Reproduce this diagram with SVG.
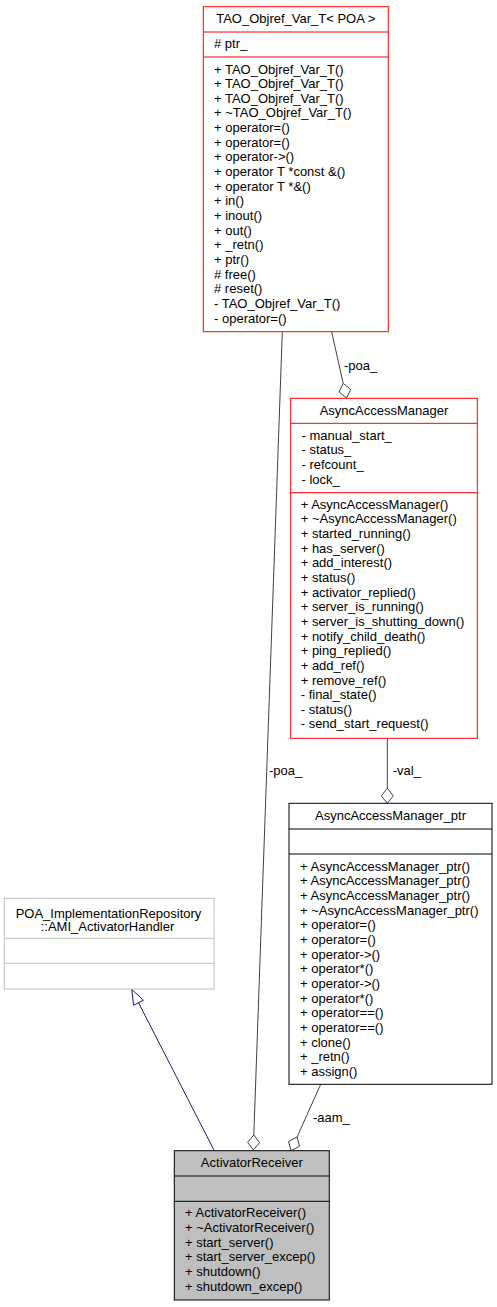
<svg xmlns="http://www.w3.org/2000/svg" width="497" height="1307" viewBox="0 0 497 1307">
<style>
text{font-family:"Liberation Sans",Arial,sans-serif;font-size:13px;fill:#000}
.c{text-anchor:middle}
.box{fill:#fff;stroke:#000;stroke-width:1}
.red{stroke:#ff0000}
.grey{stroke:#bfbfbf}
.cur{fill:#bfbfbf}
.edge{fill:none;stroke:#404040;stroke-width:1}
.dia{fill:#fff;stroke:#404040;stroke-width:1}
.inh{fill:none;stroke:#191970;stroke-width:1}
.inhh{fill:#fff;stroke:#191970;stroke-width:1}
</style>
<rect width="497" height="1307" fill="#fff"/>
<g id="connectors">
<polyline class="edge" points="282.3,332 253.8,1135"/>
<polygon class="dia" points="253.3,1150 259.6,1142.7 253.8,1135 247.6,1142.3"/>
<text x="269" y="775">-poa_</text>
<polyline class="edge" points="331.7,332 343.2,383.4"/>
<polygon class="dia" points="346.5,398 350.7,389.4 343.2,383.4 339,392"/>
<text x="344" y="369.5">-poa_</text>
<polyline class="edge" points="387.3,738.3 387.3,788.3"/>
<polygon class="dia" points="387.3,803.3 393.3,795.8 387.3,788.3 381.3,795.8"/>
<text x="392.7" y="774.5">-val_</text>
<polyline class="edge" points="320.7,1084.3 297.1,1137"/>
<polygon class="dia" points="291,1150.7 299.5,1146.3 297.1,1137 288.6,1141.4"/>
<text x="313" y="1121.5">-aam_</text>
<polyline class="inh" points="214.3,1150.7 138.5,1002.7"/>
<polygon class="inhh" points="131.7,989.3 143.4,1000.2 133.6,1005.2"/>
</g>
<g id="TAO_Objref_Var_T">
<rect class="box red" x="203.3" y="6.7" width="185" height="325"/>
<line class="box red" x1="203.3" y1="32" x2="388.3" y2="32"/>
<line class="box red" x1="203.3" y1="57" x2="388.3" y2="57"/>
<text class="c" x="295.8" y="23">TAO_Objref_Var_T&lt; POA &gt;</text>
<text x="214" y="48"># ptr_</text>
<text x="214" y="73.5">+ TAO_Objref_Var_T()</text>
<text x="214" y="88.15">+ TAO_Objref_Var_T()</text>
<text x="214" y="102.8">+ TAO_Objref_Var_T()</text>
<text x="214" y="117.45">+ ~TAO_Objref_Var_T()</text>
<text x="214" y="132.1">+ operator=()</text>
<text x="214" y="146.75">+ operator=()</text>
<text x="214" y="161.4">+ operator-&gt;()</text>
<text x="214" y="176.05">+ operator T *const &amp;()</text>
<text x="214" y="190.7">+ operator T *&amp;()</text>
<text x="214" y="205.35">+ in()</text>
<text x="214" y="220">+ inout()</text>
<text x="214" y="234.65">+ out()</text>
<text x="214" y="249.3">+ _retn()</text>
<text x="214" y="263.95">+ ptr()</text>
<text x="214" y="278.6"># free()</text>
<text x="214" y="293.25"># reset()</text>
<text x="214" y="307.9">- TAO_Objref_Var_T()</text>
<text x="214" y="322.55">- operator=()</text>
</g>
<g id="AsyncAccessManager">
<rect class="box red" x="290.7" y="398.3" width="186.6" height="340"/>
<line class="box red" x1="290.7" y1="423.3" x2="477.3" y2="423.3"/>
<line class="box red" x1="290.7" y1="492.7" x2="477.3" y2="492.7"/>
<text class="c" x="384" y="414.5">AsyncAccessManager</text>
<text x="301.5" y="439.7">- manual_start_</text>
<text x="301.5" y="454.35">- status_</text>
<text x="301.5" y="469">- refcount_</text>
<text x="301.5" y="483.65">- lock_</text>
<text x="300.7" y="508.7">+ AsyncAccessManager()</text>
<text x="300.7" y="523.35">+ ~AsyncAccessManager()</text>
<text x="300.7" y="538">+ started_running()</text>
<text x="300.7" y="552.65">+ has_server()</text>
<text x="300.7" y="567.3">+ add_interest()</text>
<text x="300.7" y="581.95">+ status()</text>
<text x="300.7" y="596.6">+ activator_replied()</text>
<text x="300.7" y="611.25">+ server_is_running()</text>
<text x="300.7" y="625.9">+ server_is_shutting_down()</text>
<text x="300.7" y="640.55">+ notify_child_death()</text>
<text x="300.7" y="655.2">+ ping_replied()</text>
<text x="300.7" y="669.85">+ add_ref()</text>
<text x="300.7" y="684.5">+ remove_ref()</text>
<text x="300.7" y="699.15">- final_state()</text>
<text x="300.7" y="713.8">- status()</text>
<text x="300.7" y="728.45">- send_start_request()</text>
</g>
<g id="AsyncAccessManager_ptr">
<rect class="box" x="289" y="803.3" width="203" height="281"/>
<line class="box" x1="289" y1="829" x2="492" y2="829"/>
<line class="box" x1="289" y1="854" x2="492" y2="854"/>
<text class="c" x="390.5" y="819.7">AsyncAccessManager_ptr</text>
<text x="300" y="870.7">+ AsyncAccessManager_ptr()</text>
<text x="300" y="885.35">+ AsyncAccessManager_ptr()</text>
<text x="300" y="900">+ AsyncAccessManager_ptr()</text>
<text x="300" y="914.65">+ ~AsyncAccessManager_ptr()</text>
<text x="300" y="929.3">+ operator=()</text>
<text x="300" y="943.95">+ operator=()</text>
<text x="300" y="958.6">+ operator-&gt;()</text>
<text x="300" y="973.25">+ operator*()</text>
<text x="300" y="987.9">+ operator-&gt;()</text>
<text x="300" y="1002.55">+ operator*()</text>
<text x="300" y="1017.2">+ operator==()</text>
<text x="300" y="1031.85">+ operator==()</text>
<text x="300" y="1046.5">+ clone()</text>
<text x="300" y="1061.15">+ _retn()</text>
<text x="300" y="1075.8">+ assign()</text>
</g>
<g id="AMI_ActivatorHandler">
<rect class="box grey" x="4.3" y="898.3" width="209.7" height="90.7"/>
<line class="box grey" x1="4.3" y1="938.3" x2="214" y2="938.3"/>
<line class="box grey" x1="4.3" y1="963.3" x2="214" y2="963.3"/>
<text class="c" x="108.5" y="918">POA_ImplementationRepository</text>
<text class="c" x="107.5" y="930.5">::AMI_ActivatorHandler</text>
</g>
<g id="ActivatorReceiver">
<rect class="box cur" x="174.3" y="1150.7" width="155" height="149.3"/>
<line class="box" x1="174.3" y1="1176" x2="329.3" y2="1176"/>
<line class="box" x1="174.3" y1="1201.3" x2="329.3" y2="1201.3"/>
<text class="c" x="251.8" y="1167">ActivatorReceiver</text>
<text x="185" y="1217.3">+ ActivatorReceiver()</text>
<text x="185" y="1231.95">+ ~ActivatorReceiver()</text>
<text x="185" y="1246.6">+ start_server()</text>
<text x="185" y="1261.25">+ start_server_excep()</text>
<text x="185" y="1275.9">+ shutdown()</text>
<text x="185" y="1290.55">+ shutdown_excep()</text>
</g>
</svg>
